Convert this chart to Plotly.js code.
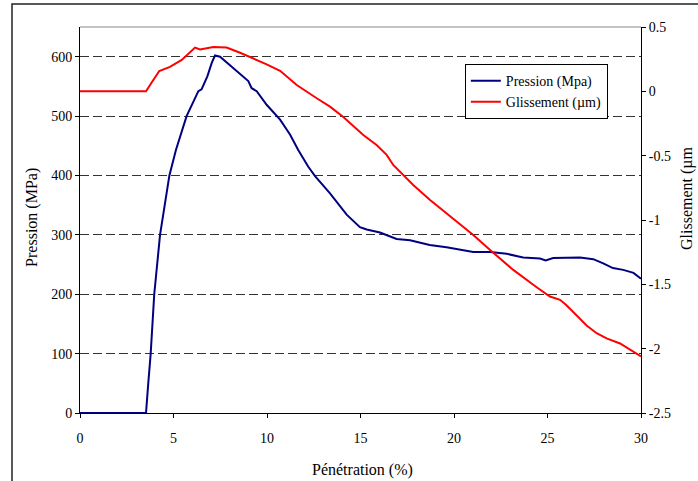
<!DOCTYPE html>
<html>
<head>
<meta charset="utf-8">
<script src="https://cdn.plot.ly/plotly-3.0.1.min.js"></script>
<style>html,body{margin:0;padding:0;background:#fff;}#chart{width:698px;height:481px;}</style>
</head>
<body>
<div id="chart"></div>
<script>
// Pénétration (%) vs Pression (MPa)
const pressionX = [0, 3.0, 3.53, 3.65, 3.78, 3.97, 4.28, 4.78, 5.13, 5.7, 6.33, 6.5, 6.81, 7.05, 7.22, 7.49, 8.2, 9.0, 9.18, 9.45, 9.98, 10.7, 11.23, 11.67, 12.2, 12.57, 13.37, 14.26, 14.97, 15.33, 16.04, 16.93, 17.65, 18.7, 19.6, 20.3, 21.03, 21.93, 22.82, 23.7, 24.6, 24.9, 25.3, 26.74, 27.45, 27.98, 28.5, 29.05, 29.6, 30];
const pressionY = [0, 0, 0, 50, 100, 200, 300, 400, 443, 500, 542, 545, 567, 590, 602, 600, 581, 559, 547, 542, 519, 494, 469, 443, 415, 399, 370, 334, 313, 309, 304, 293, 291, 283, 279, 275, 271, 271, 268, 262, 260, 257, 261, 262, 259, 252, 244, 241, 236, 226];

// Pénétration (%) vs Glissement (µm)
const glissX = [0, 3.53, 3.92, 4.24, 4.81, 5.44, 6.15, 6.42, 7.13, 7.84, 8.56, 9.27, 9.98, 10.7, 11.59, 12.66, 13.37, 14.08, 15.15, 15.86, 16.4, 16.75, 17.38, 17.82, 18.72, 19.96, 21.03, 21.93, 23.17, 24.42, 25.13, 25.67, 26.0, 26.55, 27.09, 27.63, 28.16, 28.88, 29.6, 30];
const glissY = [0, 0, 0.088, 0.158, 0.19, 0.244, 0.34, 0.325, 0.345, 0.34, 0.30, 0.257, 0.21, 0.16, 0.049, -0.054, -0.119, -0.2, -0.339, -0.417, -0.494, -0.572, -0.663, -0.728, -0.844, -0.987, -1.116, -1.233, -1.388, -1.523, -1.595, -1.62, -1.66, -1.74, -1.82, -1.88, -1.92, -1.96, -2.02, -2.06];

const xTickVals = [0, 5, 10, 15, 20, 25, 30];
const yLeftTickVals = [0, 100, 200, 300, 400, 500, 600];
const yRightTickVals = [0.5, 0, -0.5, -1, -1.5, -2, -2.5];
const yRightTickText = ["0.5", "0", "-0.5", "-1", "-1.5", "-2", "-2.5"];

const seriesNames = ["Pression (Mpa)", "Glissement (µm)"];
const xTitle = "Pénétration (%)";
const yLeftTitle = "Pression (MPa)";
const yRightTitle = "Glissement (µm";

const serif = "'Liberation Serif', 'DejaVu Serif', serif";

const traces = [
  {x: pressionX, y: pressionY, name: seriesNames[0], type: "scatter", mode: "lines",
   line: {color: "#000080", width: 2}, yaxis: "y"},
  {x: glissX, y: glissY, name: seriesNames[1], type: "scatter", mode: "lines",
   line: {color: "#FF0000", width: 2}, yaxis: "y2"}
];

const layout = {
  width: 698, height: 481,
  margin: {l: 80, r: 57, t: 27, b: 68},
  paper_bgcolor: "#fff", plot_bgcolor: "#fff",
  font: {family: serif, size: 14, color: "#000"},
  showlegend: true,
  legend: {x: 0.686, y: 0.904, xanchor: "left", yanchor: "top",
    bordercolor: "#000", borderwidth: 1, bgcolor: "#fff",
    font: {family: serif, size: 14, color: "#000"}, tracegroupgap: 0},
  xaxis: {range: [0, 30], tickvals: xTickVals, ticks: "outside", ticklen: 4, tickcolor: "#000",
    showline: true, linecolor: "#000", linewidth: 1, showgrid: false, zeroline: false,
    ticklabelstandoff: 8, tickfont: {family: serif, size: 14}},
  yaxis: {range: [0, 650], tickvals: yLeftTickVals, ticks: "outside", ticklen: 4, tickcolor: "#000",
    showline: true, linecolor: "#000", linewidth: 1, showgrid: true, gridcolor: "#333",
    griddash: "9px,4px", gridwidth: 1, zeroline: false, tickfont: {family: serif, size: 14}},
  yaxis2: {range: [-2.5, 0.5], overlaying: "y", side: "right", tickvals: yRightTickVals, ticktext: yRightTickText,
    ticks: "outside", ticklen: 4, tickcolor: "#000", showline: true, linecolor: "#000", linewidth: 1,
    showgrid: false, zeroline: false, tickfont: {family: serif, size: 14}},
  shapes: [
    {type: "line", xref: "paper", yref: "paper", x0: 0, x1: 1, y0: 1, y1: 1, line: {color: "#888", width: 1}},
    {type: "rect", xref: "paper", yref: "paper", x0: -0.1212, x1: 1.3, y0: -0.3, y1: 1.0596,
     line: {color: "#222", width: 1.5}, fillcolor: "rgba(0,0,0,0)"}
  ],
  annotations: [
    {text: xTitle, xref: "paper", yref: "paper", x: 0.503, y: -0.148, showarrow: false,
     xanchor: "center", yanchor: "middle", font: {family: serif, size: 16}},
    {text: yLeftTitle, xref: "paper", yref: "paper", x: -0.0856, y: 0.508, showarrow: false, textangle: -90,
     xanchor: "center", yanchor: "middle", font: {family: serif, size: 16}},
    {text: yRightTitle, xref: "paper", yref: "paper", x: 1.0820, y: 0.557, showarrow: false, textangle: -90,
     xanchor: "center", yanchor: "middle", font: {family: serif, size: 16}}
  ]
};

Plotly.newPlot("chart", traces, layout, {staticPlot: true, displayModeBar: false});
</script>
</body>
</html>
